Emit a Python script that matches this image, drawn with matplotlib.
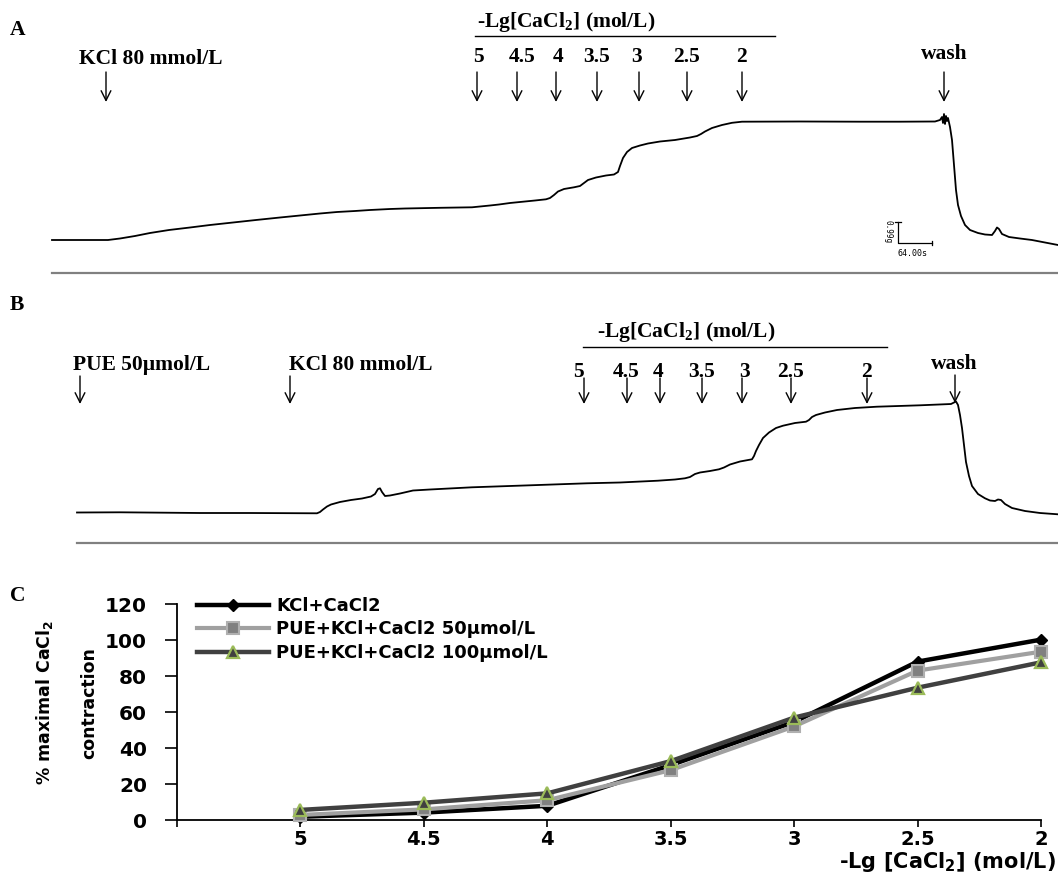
import matplotlib
matplotlib.use("Agg")
import matplotlib.pyplot as plt

plt.rcParams['mathtext.fontset'] = 'custom'
plt.rcParams['mathtext.rm'] = 'Liberation Serif:bold'
plt.rcParams['mathtext.sf'] = 'DejaVu Sans:bold'

W, H = 1058, 876

# ---------------- data ----------------
dose_labels = ['5', '4.5', '4', '3.5', '3', '2.5', '2']

# Panel A: recorder trace (horizontal position, vertical position in panel units)
traceA_x = [52, 80, 108, 120, 135, 150, 169, 190, 210, 233, 256, 280, 300, 320, 337, 355, 370, 390,
            405, 440, 472, 480, 490, 499, 510, 523, 535, 546, 550, 554, 558, 564, 574, 580, 584,
            588, 596, 606, 614, 618, 620, 623, 627, 632, 640, 648, 660, 675, 690, 697, 701, 705,
            712, 722, 732, 742, 800, 860, 900, 935, 940, 942, 943, 944, 945, 946, 947, 948, 950,
            952, 954, 956, 958, 961, 965, 970, 978, 985, 992, 995, 997, 999, 1002, 1009, 1020,
            1032, 1045, 1058]
traceA_y = [240, 240, 240, 238.5, 236, 233, 230, 227.5, 225, 222.5, 220, 217.5, 215.5, 213.5, 212,
            211, 210, 209, 208.5, 207.8, 207.3, 206.5, 205.5, 204.5, 203, 201.7, 200.5, 199.3, 198,
            195, 191.5, 189, 187.3, 186, 183, 180, 177.5, 175.5, 174.5, 172, 166, 158, 152, 148,
            145.5, 143.5, 141.5, 140, 137.5, 136, 134, 131.5, 128, 125, 122.8, 121.7, 121.5, 121.7,
            121.7, 121.5, 120, 117, 123, 114, 124, 116, 121, 118, 127, 140, 165, 190, 205, 216,
            225, 230, 233, 234.5, 235, 231, 227.5, 229, 234, 237, 238.5, 240, 242.5, 245]

# Panel B: recorder trace
traceB_x = [77, 120, 200, 250, 317, 320, 323, 327, 331, 340, 351, 362, 371, 375, 378, 380, 382, 385,
            390, 400, 413, 430, 472, 530, 587, 620, 658, 675, 685, 690, 695, 700, 710, 719, 724,
            730, 740, 752, 754, 756, 759, 763, 769, 776, 783, 795, 806, 809, 812, 816, 825, 837,
            855, 877, 920, 951, 954, 956, 958, 960, 962, 964, 966, 969, 972, 978, 985, 990, 995,
            998, 1001, 1005, 1012, 1025, 1040, 1058]
traceB_y = [512.5, 512.3, 513, 513, 513.3, 512, 509.5, 506.5, 504.5, 502, 500, 498.5, 496.5, 494,
            489, 488.3, 492, 496, 495.5, 493.5, 490.5, 489.5, 487.3, 485.3, 483.3, 482.5, 480.7,
            479.5, 478.3, 477, 474, 472.5, 471, 469.3, 467.5, 464.5, 461.5, 459.3, 456, 451, 445,
            438, 432.5, 428, 425.7, 423, 421.7, 420, 417, 415, 412.5, 410, 408, 406.7, 405.3, 404,
            402.5, 401.5, 405, 415, 428, 445, 462, 476, 486, 494, 498.3, 500.5, 501, 499.5, 500,
            504, 508, 511, 513, 514.3]

# Panel A / B annotation positions
A_label_x = [478, 522, 558, 597, 637, 686, 741]
A_arrow_x = [477, 517, 556, 597, 639, 687, 742]
B_label_x = [578, 626, 658, 702, 745, 790, 866]
B_arrow_x = [584, 627, 660, 702, 742, 791, 867]

# Panel C: concentration-response
conc_labels = ['5', '4.5', '4', '3.5', '3', '2.5', '2']
kcl_cacl2 = [1.8, 4.1, 7.9, 30.5, 54.5, 88.0, 100.2]
pue50 = [2.8, 5.9, 11.0, 27.7, 52.0, 83.0, 93.5]
pue100 = [5.6, 9.6, 14.8, 32.7, 56.9, 73.5, 87.6]
series_names = ['KCl+CaCl2', 'PUE+KCl+CaCl2 50µmol/L', 'PUE+KCl+CaCl2 100µmol/L']

# ---------------- figure ----------------
fig = plt.figure(figsize=(W / 100, H / 100), dpi=100)

serif = dict(family='Liberation Serif', weight='bold', fontsize=15.5, color='black')
arrow_kw = dict(arrowstyle='->, head_length=0.5, head_width=0.25', lw=1.0, color='black',
                mutation_scale=14, shrinkA=0, shrinkB=0)


def panel_axes(top_px, bottom_px):
    ax = fig.add_axes([0, 1 - bottom_px / H, 1, (bottom_px - top_px) / H])
    ax.set_xlim(0, W)
    ax.set_ylim(bottom_px, top_px)
    ax.axis('off')
    return ax


def arrow(ax, x, y0, y1):
    ax.annotate('', xy=(x, y1), xytext=(x, y0), arrowprops=arrow_kw)


# ---- Panel A ----
axA = panel_axes(0, 280)
axA.plot(traceA_x, traceA_y, color='black', lw=1.3)
axA.plot([52, 1058], [272.5, 272.5], color='#808080', lw=1.6)
axA.text(10, 35, 'A', ha='left', va='baseline', **serif)
axA.text(566, 27, r'-Lg[CaCl$_\mathrm{2}$] (mol/L)', ha='center', va='baseline', **serif)
axA.plot([475, 775], [36, 36], color='black', lw=1.0)
for lab, lx, axx in zip(dose_labels, A_label_x, A_arrow_x):
    axA.text(lx, 62.5, lab, ha='center', va='baseline', **serif)
    arrow(axA, axx, 72, 102)
axA.text(79, 64, 'KCl 80 mmol/L', ha='left', va='baseline', **serif)
arrow(axA, 106, 72, 102)
axA.text(944, 59, 'wash', ha='center', va='baseline', **serif)
arrow(axA, 944, 72, 102)
# scale bar
axA.plot([898, 898, 932], [222, 243, 243], color='black', lw=0.9)
axA.plot([895, 901], [222, 222], color='black', lw=0.9)
axA.plot([932, 932], [241, 245], color='black', lw=0.9)
axA.text(888, 232, '0.99g', rotation=-90, ha='center', va='center',
         family='DejaVu Sans Mono', fontsize=5.5)
axA.text(897, 254, '64.00s', ha='left', va='center', family='DejaVu Sans Mono', fontsize=6)

# ---- Panel B ----
axB = panel_axes(280, 560)
axB.plot(traceB_x, traceB_y, color='black', lw=1.3)
axB.plot([77, 1058], [543, 543], color='#808080', lw=1.6)
axB.text(10, 310, 'B', ha='left', va='baseline', **serif)
axB.text(686, 337, r'-Lg[CaCl$_\mathrm{2}$] (mol/L)', ha='center', va='baseline', **serif)
axB.plot([583, 887], [347, 347], color='black', lw=1.0)
for lab, lx, axx in zip(dose_labels, B_label_x, B_arrow_x):
    axB.text(lx, 377, lab, ha='center', va='baseline', **serif)
    arrow(axB, axx, 378, 404)
axB.text(73, 370, 'PUE 50µmol/L', ha='left', va='baseline', **serif)
arrow(axB, 80, 376, 404)
axB.text(289, 370, 'KCl 80 mmol/L', ha='left', va='baseline', **serif)
arrow(axB, 290, 376, 404)
axB.text(954, 369, 'wash', ha='center', va='baseline', **serif)
arrow(axB, 955, 375, 403)

# ---- Panel C ----
left, right, top, bottom = 177, 1041, 604, 820
axC = fig.add_axes([left / W, 1 - bottom / H, (right - left) / W, (bottom - top) / H])
xpos = list(range(len(conc_labels)))
axC.plot(xpos, kcl_cacl2, color='black', lw=3.2, marker='D', markersize=6.5,
         markerfacecolor='black', markeredgecolor='black', label=series_names[0], clip_on=False,
         zorder=3)
axC.plot(xpos, pue50, color='#A0A0A0', lw=3.0, marker='s', markersize=8,
         markerfacecolor='#808080', markeredgecolor='#B0B0B0', markeredgewidth=1.5,
         label=series_names[1], clip_on=False, zorder=4)
axC.plot(xpos, pue100, color='#404040', lw=3.2, marker='^', markersize=8.5,
         markerfacecolor='#404040', markeredgecolor='#9BBB59', markeredgewidth=1.6,
         label=series_names[2], clip_on=False, zorder=5)
axC.set_xlim(-1, len(conc_labels) - 1)
axC.set_ylim(0, 120)
axC.set_yticks(range(0, 121, 20))
axC.set_xticks(range(-1, len(conc_labels)))
axC.set_xticklabels([''] + conc_labels)
for s in ['top', 'right']:
    axC.spines[s].set_visible(False)
for s in ['left', 'bottom']:
    axC.spines[s].set_linewidth(1.3)
axC.tick_params(axis='y', direction='out', length=8.5, width=1.2, pad=13)
axC.tick_params(axis='x', direction='out', length=5, width=1.2, pad=2)
for t in axC.get_yticklabels():
    t.set_fontfamily('DejaVu Sans')
    t.set_fontweight('bold')
    t.set_fontsize(14.5)
for t in axC.get_xticklabels():
    t.set_fontfamily('DejaVu Sans')
    t.set_fontweight('bold')
    t.set_fontsize(14)

leg = axC.legend(loc='upper left', bbox_to_anchor=(197 / W, 1 - 597 / H),
                 bbox_transform=fig.transFigure, frameon=False, borderpad=0, borderaxespad=0,
                 handlelength=4.0, handletextpad=0.4, labelspacing=0.3,
                 prop=dict(family='DejaVu Sans', weight='bold', size=13))

fig.text(1056 / W, 1 - 868 / H, r'-Lg [CaCl$_\mathsf{2}$] (mol/L)', ha='right', va='baseline',
         family='DejaVu Sans', weight='bold', fontsize=15)
fig.text(45 / W, 1 - 702 / H, r'% maximal CaCl$_\mathsf{2}$', rotation=90, ha='center',
         va='center', family='DejaVu Sans', weight='bold', fontsize=12.5)
fig.text(89 / W, 1 - 703 / H, 'contraction', rotation=90, ha='center', va='center',
         family='DejaVu Sans', weight='bold', fontsize=12.5)
fig.text(10 / W, 1 - 601 / H, 'C', ha='left', va='baseline', family='Liberation Serif',
         weight='bold', fontsize=15.5)

fig.savefig('out.png', dpi=100)
